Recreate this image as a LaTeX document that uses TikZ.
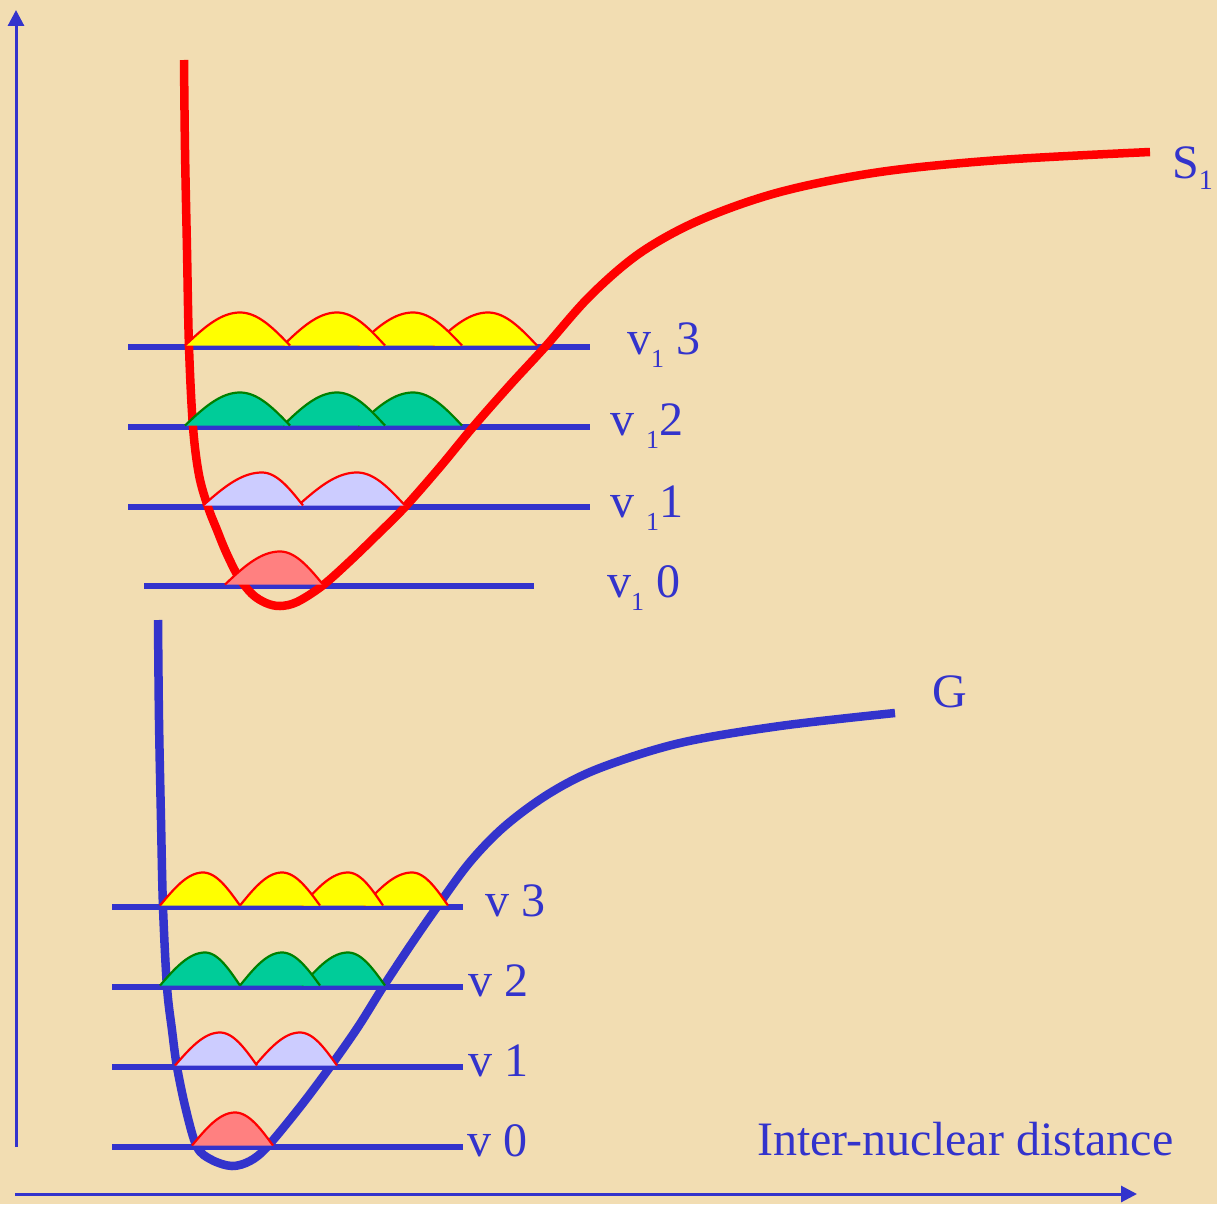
\documentclass[tikz,border=0pt]{standalone}
\usepackage{fontspec}
\setmainfont{Liberation Serif}
\usetikzlibrary{arrows.meta}
\definecolor{bg}{RGB}{242,221,178}
\definecolor{lvblue}{RGB}{51,51,204}
\definecolor{wyellow}{RGB}{255,255,0}
\definecolor{wgreen}{RGB}{0,204,153}
\definecolor{wgreenline}{RGB}{0,128,0}
\definecolor{wlav}{RGB}{204,204,255}
\definecolor{wsalmon}{RGB}{255,128,128}
\definecolor{cred}{RGB}{255,0,0}
\newcommand\wbump[6]{%
  \fill[#5] plot[domain=0:90,samples=24] ({#1+(#2-#1)*\x/90},{#4-1.5-33*sin(\x)})
     -- plot[domain=90:180,samples=24] ({#2+(#3-#2)*(\x-90)/90},{#4-1.5-33*sin(\x)}) -- cycle;
  \draw[#6, line width=2.2pt, line join=round] plot[domain=0:90,samples=24] ({#1+(#2-#1)*\x/90},{#4-1.5-33*sin(\x)})
     -- plot[domain=90:180,samples=24] ({#2+(#3-#2)*(\x-90)/90},{#4-1.5-33*sin(\x)});
}
\newcommand\subone{{\fontsize{26}{26}\selectfont\raisebox{-13pt}{1}}}
\tikzset{
  axisline/.style={draw=lvblue, line width=3pt, -{Triangle[length=16pt,width=16pt]}},
  levelline/.style={draw=lvblue, line width=6.5pt},
  pecurve/.style={line width=8.5pt},
  lab/.style={text=lvblue, font=\fontsize{48}{50}\selectfont, inner sep=0pt, anchor=base west}
}
\begin{document}
\begin{tikzpicture}[x=1pt,y=-1pt]
\fill[bg] (0,0) rectangle (1217,1204);
\useasboundingbox (0,0) rectangle (1217,1204);
% axes
\coordinate (yb) at (16,1147); \coordinate (yt) at (16,10);
\coordinate (xl) at (15,1194); \coordinate (xr) at (1137,1194);
\draw[axisline] (yb) -- (yt);
\draw[axisline] (xl) -- (xr);
% level lines upper
\coordinate (u3a) at (128,347); \coordinate (u3b) at (590,347);
\coordinate (u2a) at (128,427); \coordinate (u2b) at (590,427);
\coordinate (u1a) at (128,507); \coordinate (u1b) at (590,507);
\coordinate (u0a) at (144,586); \coordinate (u0b) at (534,586);
\draw[levelline] (u3a) -- (u3b);
\draw[levelline] (u2a) -- (u2b);
\draw[levelline] (u1a) -- (u1b);
\draw[levelline] (u0a) -- (u0b);
% level lines lower
\coordinate (l3a) at (112,907); \coordinate (l3b) at (463,907);
\coordinate (l2a) at (112,987); \coordinate (l2b) at (463,987);
\coordinate (l1a) at (112,1067); \coordinate (l1b) at (463,1067);
\coordinate (l0a) at (112,1147); \coordinate (l0b) at (463,1147);
\draw[levelline] (l3a) -- (l3b);
\draw[levelline] (l2a) -- (l2b);
\draw[levelline] (l1a) -- (l1b);
\draw[levelline] (l0a) -- (l0b);
% S1 curve
\draw[pecurve, draw=cred] plot[smooth, tension=0.55] coordinates {
 (184,60) (185,150) (187,250) (189,347) (193,427) (199,475) (208,507) (217,530)
 (226,552) (238,576) (252,594) (266,603) (280,606) (297,602) (322,586) (349,562)
 (377,535) (405,507) (440,467) (473,427) (510,385) (545,347) (590,296) (640,253) (700,220)
 (780,192) (880,172) (1000,160) (1150,152)};
% G curve
\draw[pecurve, draw=lvblue] plot[smooth, tension=0.55] coordinates {
 (158,620) (159,720) (161,820) (163,907) (167,987) (172,1030) (177,1067) (186,1110)
 (197,1147) (212,1160) (232,1166) (250,1161) (267,1147) (300,1107) (330,1067)
 (358,1027) (383,987) (410,946) (437,907) (470,862) (505,826) (550,793) (600,768)
 (680,743) (780,726) (895,713)};
% upper wave bumps
\wbump{433}{488}{537}{347}{wyellow}{cred}
\wbump{358}{413}{462}{347}{wyellow}{cred}
\wbump{283}{337}{385}{347}{wyellow}{cred}
\wbump{185}{240}{290}{347}{wyellow}{cred}
\wbump{358}{413}{462}{427}{wgreen}{wgreenline}
\wbump{283}{337}{385}{427}{wgreen}{wgreenline}
\wbump{185}{240}{290}{427}{wgreen}{wgreenline}
\wbump{298}{357}{405}{507}{wlav}{cred}
\wbump{203}{262}{303}{507}{wlav}{cred}
\wbump{225}{280}{323}{586}{wsalmon}{cred}
% lower wave bumps
\wbump{364}{412}{448}{907}{wyellow}{cred}
\wbump{302}{348}{383}{907}{wyellow}{cred}
\wbump{240}{282}{320}{907}{wyellow}{cred}
\wbump{160}{203}{240}{907}{wyellow}{cred}
\wbump{302}{348}{385}{987}{wgreen}{wgreenline}
\wbump{240}{282}{320}{987}{wgreen}{wgreenline}
\wbump{160}{205}{240}{987}{wgreen}{wgreenline}
\wbump{255}{300}{337}{1067}{wlav}{cred}
\wbump{175}{220}{257}{1067}{wlav}{cred}
\wbump{192}{235}{273}{1147}{wsalmon}{cred}
% labels
\node[lab] (s1) at (1172,178) {S{\fontsize{28}{28}\selectfont\raisebox{-11pt}{1}}};
\node[lab] (g) at (932,707) {G};
\node[lab] (uv3) at (627,354) {v\subone\ 3};
\node[lab] (uv2) at (610,435) {v\ \subone2};
\node[lab] (uv1) at (610,517) {v\ \subone1};
\node[lab] (uv0) at (607,597) {v\subone\ 0};
\node[lab] (lv3) at (485,916) {v 3};
\node[lab] (lv2) at (468,996) {v 2};
\node[lab] (lv1) at (468,1076) {v 1};
\node[lab] (lv0) at (467,1156) {v 0};
\node[lab] (xlab) at (757,1155) {Inter-nuclear distance};
\end{tikzpicture}
\end{document}
